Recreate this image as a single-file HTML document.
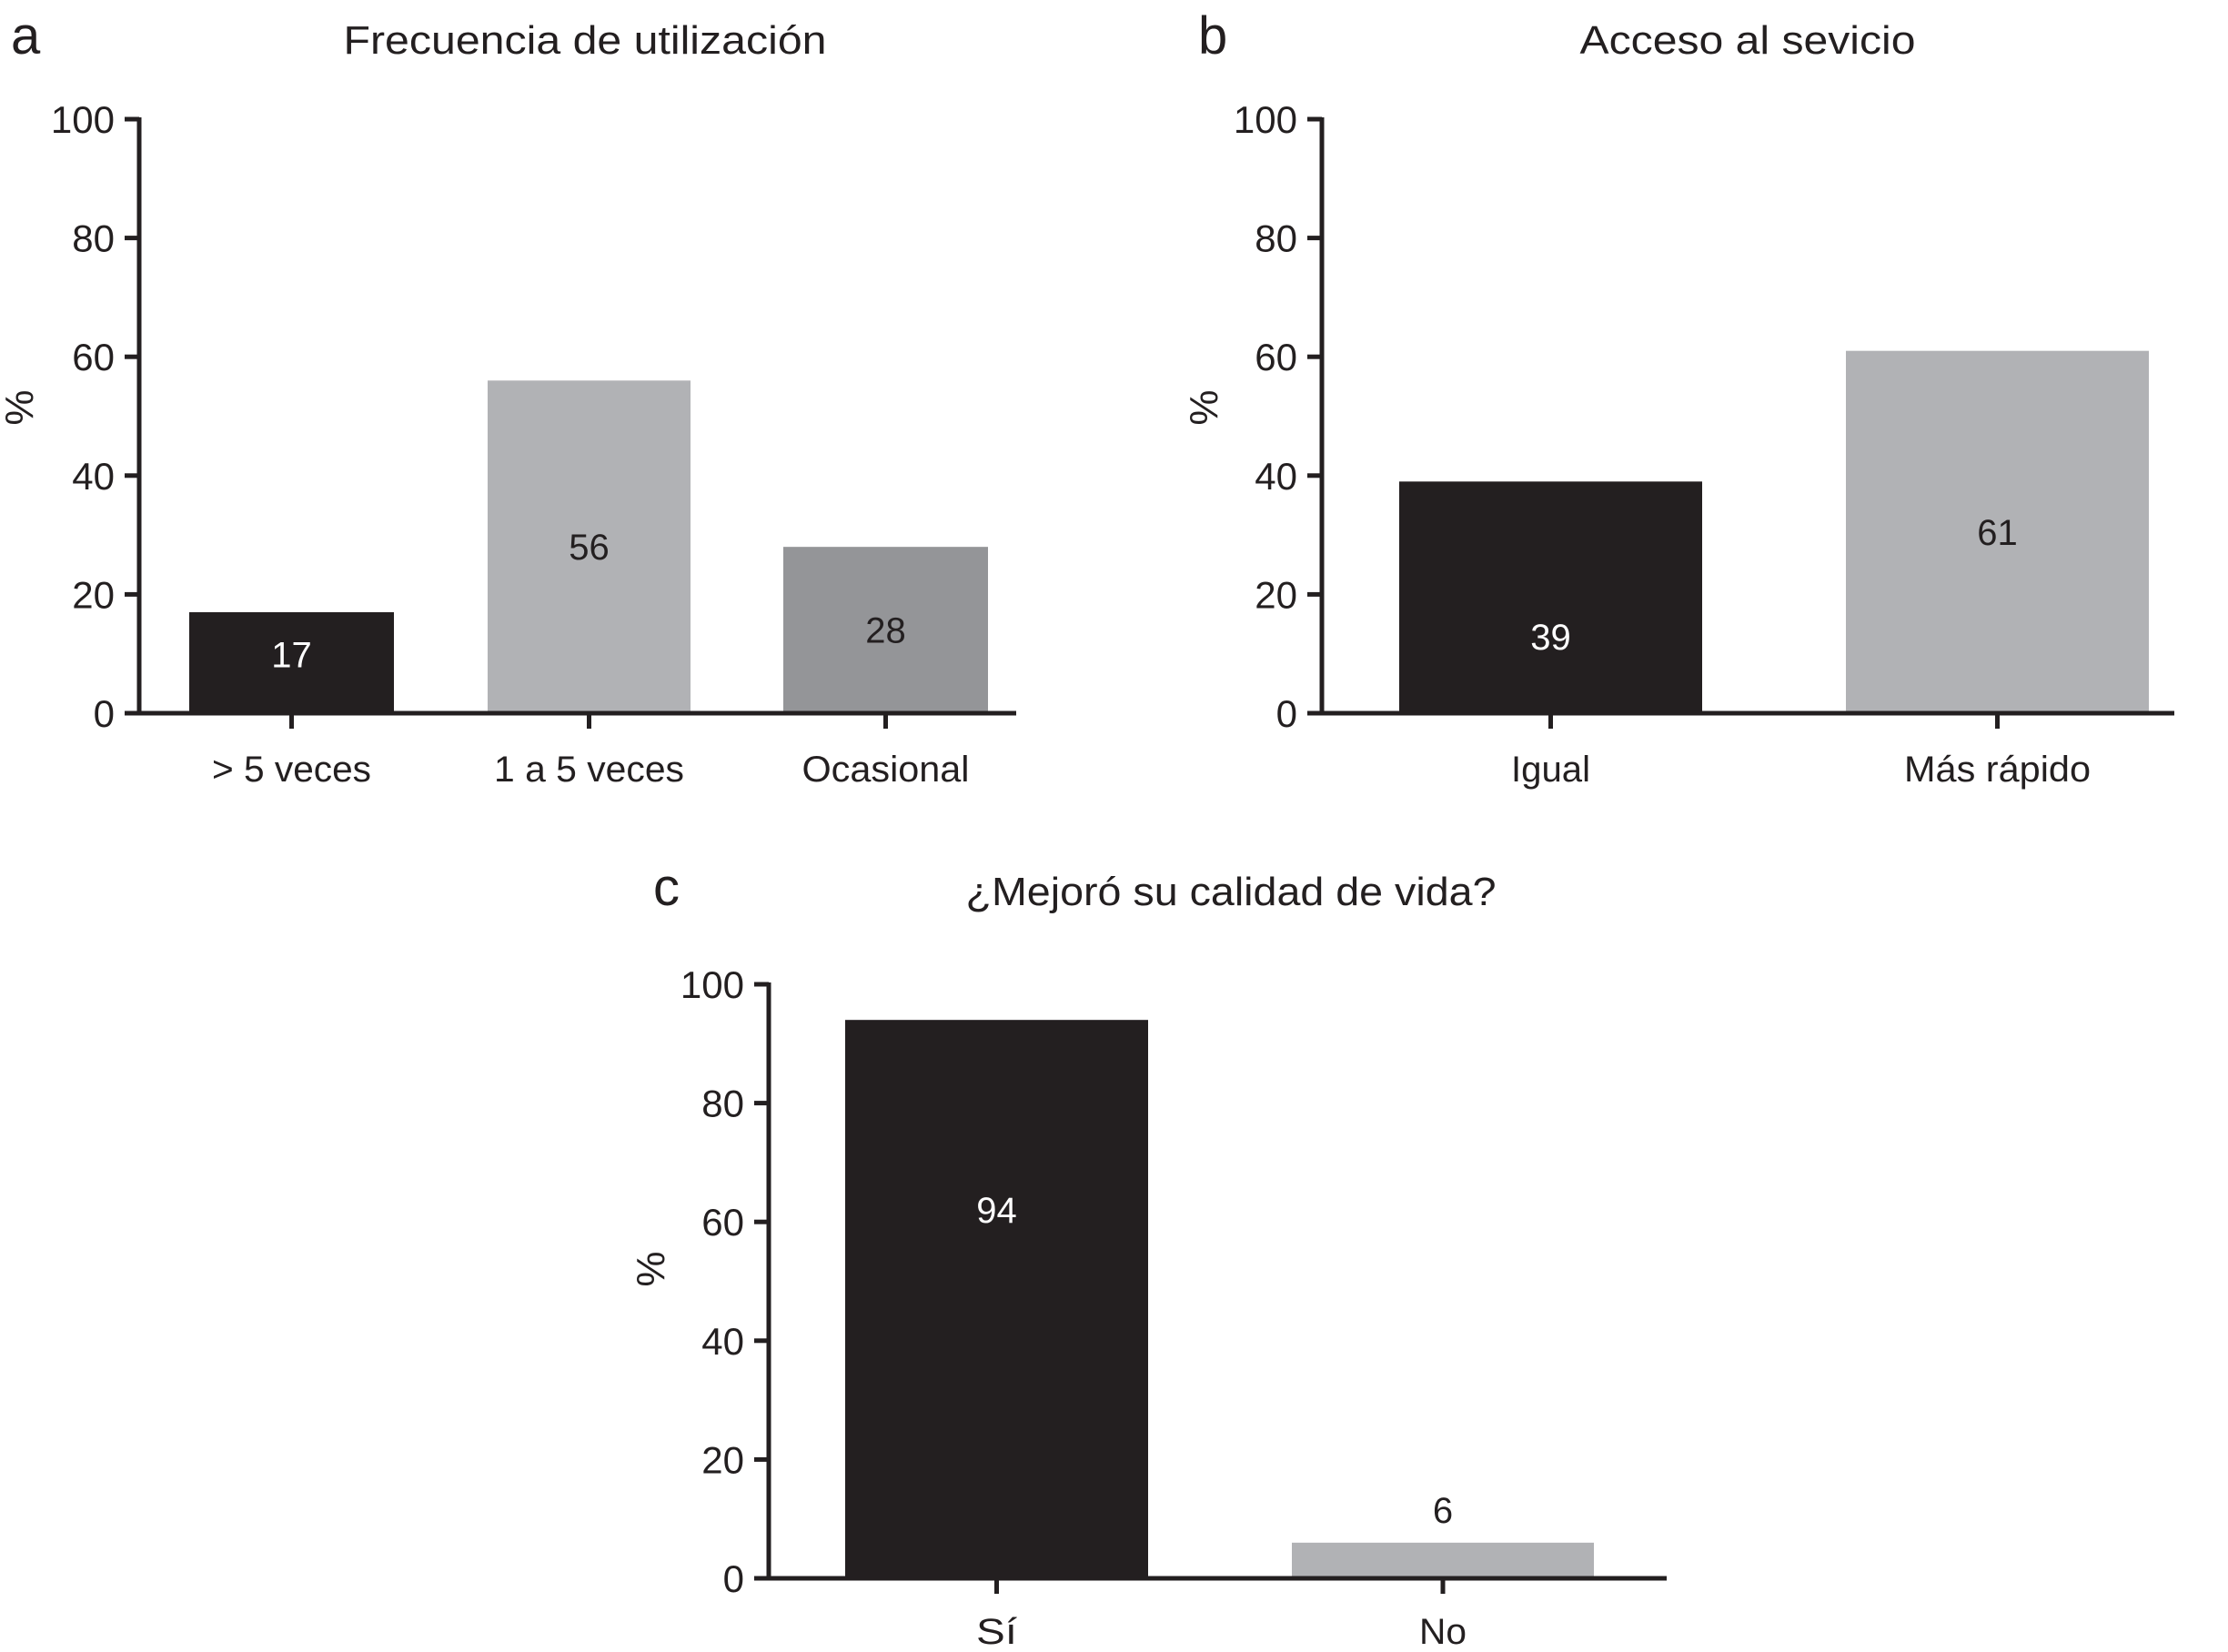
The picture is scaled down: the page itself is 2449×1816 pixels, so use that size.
<!DOCTYPE html>
<html><head><meta charset="utf-8"><style>
html,body{margin:0;padding:0;background:#fff}
svg{display:block}
text{font-family:"Liberation Sans Narrow","Liberation Sans",sans-serif}
</style></head><body>
<svg id="chart" width="2449" height="1816" viewBox="0 0 2449 1816" xmlns="http://www.w3.org/2000/svg"></svg>
<script>
const aCategories = ["> 5 veces", "1 a 5 veces", "Ocasional"];
const aValues = [17, 56, 28];
const bCategories = ["Igual", "Más rápido"];
const bValues = [39, 61];
const cCategories = ["Sí", "No"];
const cValues = [94, 6];
const yTicks = [0, 20, 40, 60, 80, 100];

const NS = "http://www.w3.org/2000/svg";
const svg = document.getElementById("chart");
function mk(tag, attrs, parent, txt) {
  const e = document.createElementNS(NS, tag);
  if (tag === "text") e.setAttribute("fill", "#231f20");
  for (const k in attrs) e.setAttribute(k, attrs[k]);
  if (txt !== undefined) e.textContent = txt;
  parent.appendChild(e);
  return e;
}

const panels = [
  {id:"a", title:"Frecuencia de utilización", titleX:643, titleY:59, titleLen:531, letterX:12, letterY:59,
   axisX:153, y0:784, y100:131, axisEnd:1117, bars:[[208,433],[536,759],[861,1086]],
   colors:["#231f20","#b1b2b5","#949598"], textColors:["#ffffff","#231f20","#231f20"], labelFrac:[0.58,0.5,0.5],
   labelLens:[175,209,184], labelY:859, pctX:36, pctY:448, cats:aCategories, vals:aValues},
  {id:"b", title:"Acceso al sevicio", titleX:1921, titleY:59, titleLen:369, letterX:1317, letterY:59,
   axisX:1453, y0:784, y100:131, axisEnd:2390, bars:[[1538,1871],[2029,2362]],
   colors:["#231f20","#b1b2b5"], textColors:["#ffffff","#231f20"], labelFrac:[0.33,0.5],
   labelLens:[87,205], labelY:859, pctX:1338, pctY:448, cats:bCategories, vals:bValues},
  {id:"c", title:"¿Mejoró su calidad de vida?", titleX:1353, titleY:995, titleLen:583, letterX:718, letterY:995,
   axisX:845, y0:1735, y100:1082, axisEnd:1832, bars:[[929,1262],[1420,1752]],
   colors:["#231f20","#b1b2b5"], textColors:["#ffffff","#231f20"], labelFrac:[0.66,0.5],
   labelLens:[45,52], labelY:1807, pctX:730, pctY:1395, cats:cCategories, vals:cValues}
];

panels.forEach(p => {
  const g = mk("g", {}, svg);
  
  
  const y = v => p.y0 + (p.y100 - p.y0) * v / 100;

  const letter = mk("text", {x:p.letterX, y:p.letterY, "font-size":58, "font-family":"Liberation Sans, sans-serif"}, g, p.id);
  
  

  const t = mk("text", {x:p.titleX, y:p.titleY, "font-size":44, "text-anchor":"middle", textLength:p.titleLen, lengthAdjust:"spacingAndGlyphs"}, g, p.title);
  
  

  p.vals.forEach((v, i) => {
    const [x1, x2] = p.bars[i];
    const r = mk("rect", {x:x1, y:y(v), width:x2 - x1, height:p.y0 - y(v), fill:p.colors[i]}, g);
    
    
    const ly = v < 10 ? y(v) - 22 : y(v * p.labelFrac[i]) + 14;
    const vl = mk("text", {x:(x1 + x2) / 2, y:ly, "font-size":40, "text-anchor":"middle", fill:v < 10 ? "#231f20" : p.textColors[i]}, g, String(v));
    
    
    const tk = mk("line", {x1:(x1 + x2) / 2, x2:(x1 + x2) / 2, y1:p.y0, y2:p.y0 + 17, stroke:"#231f20", "stroke-width":5}, g);
    
    
    const cl = mk("text", {x:(x1 + x2) / 2, y:p.labelY, "font-size":40, "text-anchor":"middle", textLength:p.labelLens[i], lengthAdjust:"spacingAndGlyphs"}, g, p.cats[i]);
    
    
  });

  const ya = mk("line", {x1:p.axisX, x2:p.axisX, y1:p.y100 - 2, y2:p.y0 + 2, stroke:"#231f20", "stroke-width":5}, g);
  
  
  const xa = mk("line", {x1:p.axisX - 2, x2:p.axisEnd, y1:p.y0, y2:p.y0, stroke:"#231f20", "stroke-width":5}, g);
  
  
  yTicks.forEach(v => {
    const l = mk("line", {x1:p.axisX - 16, x2:p.axisX, y1:y(v), y2:y(v), stroke:"#231f20", "stroke-width":5}, g);
    
    
    const tl = mk("text", {x:p.axisX - 27, y:y(v) + 15, "font-size":42, "text-anchor":"end"}, g, String(v));
    
    
  });
  const pct = mk("text", {x:p.pctX, y:p.pctY, "font-size":44, "text-anchor":"middle", transform:"rotate(-90 " + p.pctX + " " + p.pctY + ")"}, g, "%");
  
  
});
</script>
</body></html>
